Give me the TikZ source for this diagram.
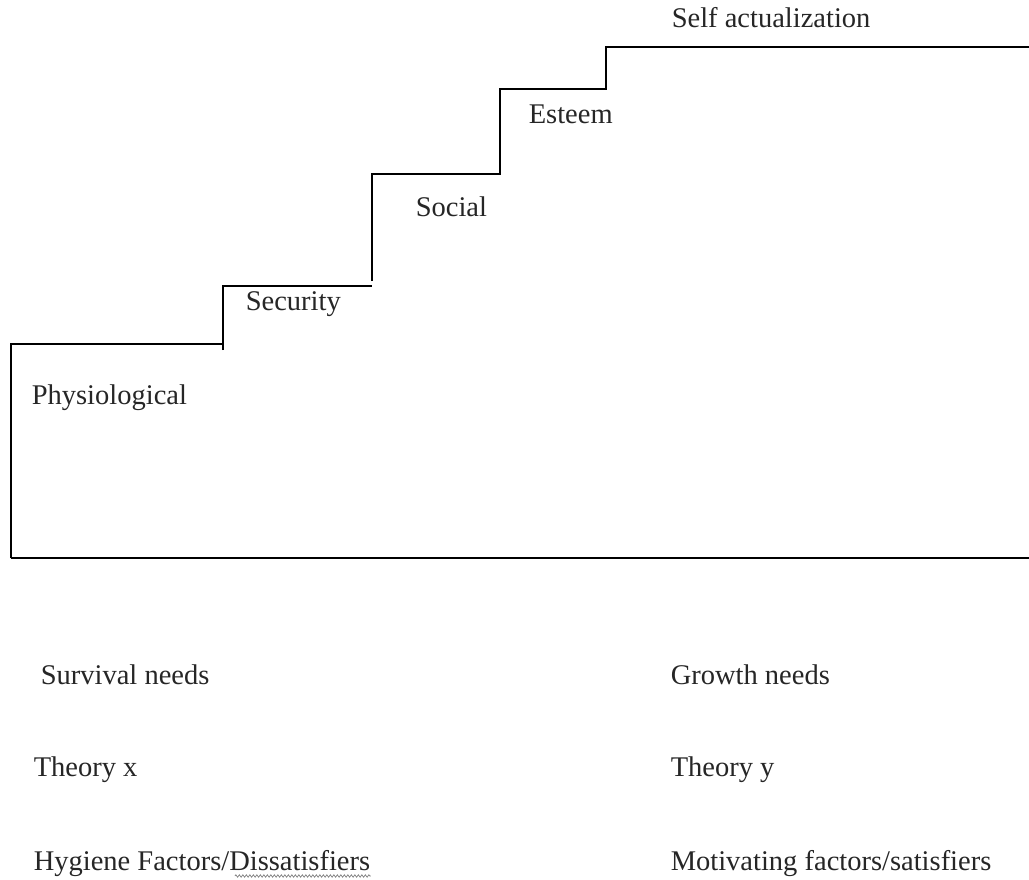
\documentclass[tikz,border=0pt]{standalone}
\usepackage{fontspec}
\setmainfont{Liberation Serif}
\usetikzlibrary{decorations.pathmorphing}
\begin{document}
\begin{tikzpicture}[x=1pt,y=-1pt,line width=1.6pt,
  lbl/.style={anchor=base west,inner sep=0pt,text=black!85,font=\fontsize{28.5}{34}\selectfont}]
  \useasboundingbox (0,0) rectangle (1029,880);
  % staircase
  \draw (11,558) -- (11,344) -- (223,344);
  \draw (223,350) -- (223,286) -- (372,286);
  \draw (372,281) -- (372,174) -- (500,174) -- (500,89) -- (606,89) -- (606,47) -- (1029,47);
  \draw (11,558) -- (1029,558);
  \node[lbl] (physio) at (31,404) {Physiological};
  \node[lbl] (security) at (245,310) {Security};
  \node[lbl] (social) at (415,216) {Social};
  \node[lbl] (esteem) at (528,124) {Esteem};
  \node[lbl] (selfact) at (671,28) {Self actualization};
  % lower texts
  \node[lbl] (survival) at (40,684) {Survival needs};
  \node[lbl] (growth) at (670,684) {Growth needs};
  \node[lbl] (theoryx) at (33,776) {Theory x};
  \node[lbl] (theoryy) at (670,776) {Theory y};
  \node[lbl] (hygiene) at (33,870) {Hygiene Factors/Dissatisfiers};
  \node[lbl] (motiv) at (670,870) {Motivating factors/satisfiers};
  \draw[gray,line width=0.7pt,decorate,decoration={zigzag,amplitude=1.2pt,segment length=3.5pt}]
    (hygiene.base east |- 0,876) ++(-136,0) -- (hygiene.base east |- 0,876);
\end{tikzpicture}
\end{document}
